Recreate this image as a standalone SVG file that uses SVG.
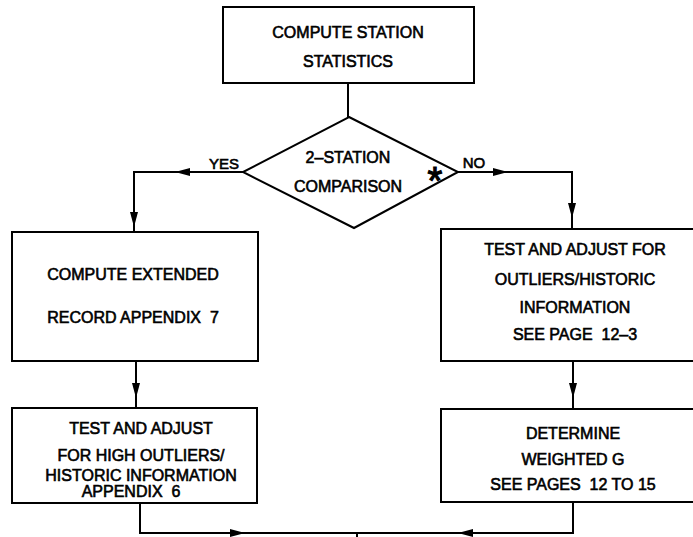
<svg xmlns="http://www.w3.org/2000/svg" width="693" height="537" viewBox="0 0 693 537">
<style>
.box{fill:#fff;stroke:#000;stroke-width:2}
.c{fill:none;stroke:#000;stroke-width:2}
text{font-family:"Liberation Sans",Arial,sans-serif;font-size:16px;fill:#000;stroke:#000;stroke-width:0.6;text-anchor:middle;white-space:pre}
.lbl{font-size:15px}
</style>
<defs>
<marker id="ah" markerUnits="userSpaceOnUse" markerWidth="16" markerHeight="10" refX="15" refY="4" orient="auto">
<path d="M0,0 L15,4 L0,8 z" fill="#000"/>
</marker>
</defs>
<rect width="693" height="537" fill="#fff"/>
<g id="connectors">
<path class="c" d="M348,83 V117"/>
<path class="c" d="M243,172 H175" marker-end="url(#ah)"/>
<path class="c" d="M175,172 H134 V227" marker-end="url(#ah)"/>
<path class="c" d="M134,226 V232"/>
<path class="c" d="M458,172 H508" marker-end="url(#ah)"/>
<path class="c" d="M508,172 H572 V218" marker-end="url(#ah)"/>
<path class="c" d="M572,217 V229"/>
<path class="c" d="M136,361 V398" marker-end="url(#ah)"/>
<path class="c" d="M136,397 V408"/>
<path class="c" d="M573,361 V398" marker-end="url(#ah)"/>
<path class="c" d="M573,397 V409"/>
<path class="c" d="M140,503 V533 H245" marker-end="url(#ah)"/>
<path class="c" d="M245,533 H458"/>
<path class="c" d="M573,502 V533 H458" marker-end="url(#ah)"/>
<path class="c" d="M357,533 V537"/>
<text class="lbl" x="224" y="169">YES</text>
<text class="lbl" x="474" y="168">NO</text>
</g>
<g id="n_stats">
<rect class="box" x="223" y="7" width="251" height="76"/>
<text x="348" y="38">COMPUTE STATION</text>
<text x="348" y="67">STATISTICS</text>
</g>
<g id="n_decision">
<polygon class="box" points="349,117 458,172 354,228 243,172"/>
<text x="348" y="163">2–STATION</text>
<text x="348" y="192">COMPARISON</text>
<text x="435" y="194" style="font-size:38px;stroke-width:1.2">*</text>
</g>
<g id="n_extended">
<rect class="box" x="12" y="232" width="246" height="129"/>
<text x="133" y="280">COMPUTE EXTENDED</text>
<text x="133" y="323" xml:space="preserve">RECORD APPENDIX  7</text>
</g>
<g id="n_highout">
<rect class="box" x="12" y="408" width="245" height="95"/>
<text x="141" y="434">TEST AND ADJUST</text>
<text x="141" y="461">FOR HIGH OUTLIERS/</text>
<text x="141" y="481">HISTORIC INFORMATION</text>
<text x="131" y="497" xml:space="preserve">APPENDIX  6</text>
</g>
<g id="n_outliers">
<rect class="box" x="441" y="229" width="262" height="132"/>
<text x="575" y="255">TEST AND ADJUST FOR</text>
<text x="575" y="285">OUTLIERS/HISTORIC</text>
<text x="575" y="313">INFORMATION</text>
<text x="575" y="340" xml:space="preserve">SEE PAGE  12–3</text>
</g>
<g id="n_weighted">
<rect class="box" x="441" y="409" width="262" height="93"/>
<text x="573" y="439">DETERMINE</text>
<text x="573" y="465">WEIGHTED G</text>
<text x="573" y="490" xml:space="preserve">SEE PAGES  12 TO 15</text>
</g>
</svg>
